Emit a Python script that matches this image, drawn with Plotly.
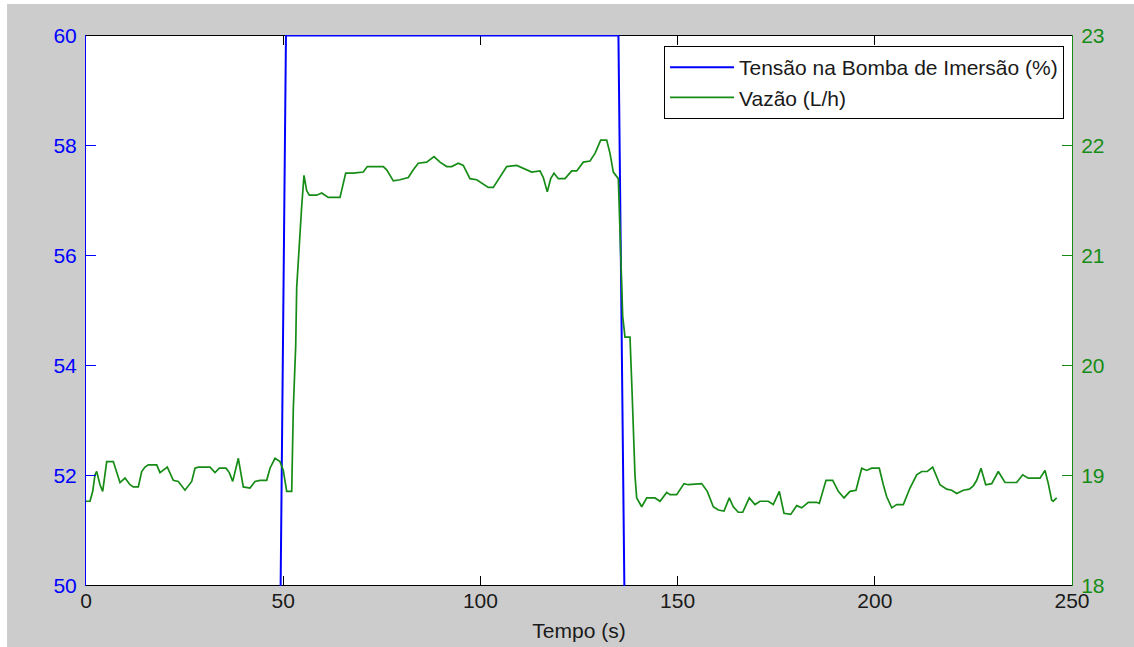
import plotly.graph_objects as go

# ---- data ----
t_tensao = [0, 48.0, 50.7, 135.0, 138.0, 246.1]
tensao = [40, 40, 60, 60, 40, 40]

t_vazao = [
    0, 1.01, 1.70, 2.28, 2.71, 3.55, 4.23, 5.25, 6.92, 7.78,
    8.62, 9.89, 11.16, 11.99, 13.26, 14.12, 14.96, 15.80, 17.93, 18.76,
    20.61, 22.13, 23.40, 25.10, 26.80, 27.64, 28.47, 31.44, 32.71, 33.80,
    35.50, 36.33, 37.20, 38.62, 39.88, 41.58, 42.85, 44.12, 45.82, 46.65,
    47.92, 49.19, 50.03, 50.89, 52.16, 52.56, 53.17, 53.42, 54.01, 54.69,
    55.27, 55.96, 56.62, 58.49, 59.76, 61.43, 64.40, 65.85, 67.77, 70.31,
    71.32, 75.38, 76.24, 77.92, 79.61, 81.72, 82.99, 84.25, 86.38, 88.24,
    89.76, 91.46, 92.72, 94.40, 95.66, 97.36, 99.06, 100.74, 102.00, 103.27,
    104.97, 106.67, 109.20, 111.74, 113.01, 115.11, 115.95, 116.96, 117.82, 118.66,
    119.75, 121.45, 123.15, 124.42, 126.09, 127.79, 129.06, 130.50, 132.02, 132.86,
    133.70, 134.97, 135.40, 135.83, 136.08, 136.66, 137.93, 138.51, 138.77, 139.20,
    139.63, 140.90, 142.17, 144.27, 145.54, 147.24, 148.07, 149.77, 151.62, 152.71,
    156.11, 157.53, 159.05, 160.32, 161.76, 163.11, 164.12, 165.39, 166.51, 168.18,
    169.62, 170.89, 173.00, 174.26, 175.79, 176.98, 178.68, 180.20, 181.47, 183.14,
    185.27, 185.93, 187.63, 189.33, 190.75, 192.19, 193.71, 195.23, 196.68, 197.95,
    199.21, 201.14, 202.16, 203.02, 204.29, 205.55, 207.23, 208.92, 210.62, 211.89,
    213.31, 214.68, 216.53, 218.23, 219.50, 220.77, 222.44, 223.96, 224.98, 225.84,
    226.93, 228.12, 229.64, 231.31, 233.01, 235.98, 237.50, 238.92, 241.89, 243.15,
    243.99, 244.85, 245.26, 246.12,
]
vazao = [
    18.77, 18.77, 18.86, 19.01, 19.04, 18.92, 18.86, 19.13, 19.13, 19.03,
    18.94, 18.98, 18.92, 18.90, 18.90, 19.04, 19.08, 19.10, 19.10, 19.03,
    19.08, 18.96, 18.95, 18.87, 18.95, 19.07, 19.08, 19.08, 19.03, 19.07,
    19.07, 19.03, 18.95, 19.16, 18.90, 18.89, 18.95, 18.96, 18.96, 19.07,
    19.16, 19.13, 19.05, 18.86, 18.86, 19.61, 20.18, 20.71, 21.11, 21.45,
    21.73, 21.59, 21.55, 21.55, 21.57, 21.53, 21.53, 21.75, 21.75, 21.76,
    21.81, 21.81, 21.78, 21.68, 21.69, 21.71, 21.78, 21.84, 21.85, 21.90,
    21.85, 21.81, 21.81, 21.84, 21.82, 21.70, 21.69, 21.65, 21.62, 21.62,
    21.71, 21.81, 21.82, 21.78, 21.76, 21.77, 21.71, 21.58, 21.70, 21.75,
    21.70, 21.70, 21.77, 21.77, 21.85, 21.86, 21.93, 22.05, 22.05, 21.93,
    21.76, 21.70, 21.13, 20.81, 20.45, 20.26, 20.26, 19.71, 19.35, 19.00,
    18.80, 18.72, 18.80, 18.80, 18.77, 18.85, 18.83, 18.83, 18.93, 18.92,
    18.93, 18.86, 18.72, 18.69, 18.68, 18.80, 18.72, 18.67, 18.67, 18.80,
    18.74, 18.77, 18.77, 18.74, 18.86, 18.66, 18.65, 18.73, 18.71, 18.76,
    18.76, 18.75, 18.96, 18.96, 18.86, 18.80, 18.86, 18.87, 19.07, 19.05,
    19.07, 19.07, 18.92, 18.81, 18.71, 18.74, 18.74, 18.89, 19.01, 19.04,
    19.04, 19.08, 18.92, 18.88, 18.87, 18.84, 18.87, 18.88, 18.91, 18.96,
    19.07, 18.92, 18.93, 19.04, 18.94, 18.94, 19.01, 18.98, 18.98, 19.05,
    18.93, 18.78, 18.77, 18.80,
]

x_ticks = [0, 50, 100, 150, 200, 250]
y1_ticks = [50, 52, 54, 56, 58, 60]
y2_ticks = [18, 19, 20, 21, 22, 23]

BLUE = "#0000ff"
GREEN = "#168c16"
FONT = "Liberation Sans, Arial, sans-serif"
FS = 21

fig = go.Figure()
fig.add_trace(go.Scatter(x=t_tensao, y=tensao, mode="lines",
                         name="Tensão na Bomba de Imersão (%)", legendgroup="a",
                         line=dict(color=BLUE, width=2)))
fig.add_trace(go.Scatter(x=t_vazao, y=vazao, mode="lines", name="Vazão (L/h)",
                         legendgroup="b",
                         yaxis="y2", line=dict(color=GREEN, width=1.7)))

fig.update_layout(
    width=1134, height=647,
    margin=dict(l=86, r=62, t=35, b=61),
    paper_bgcolor="white",
    plot_bgcolor="rgba(0,0,0,0)",
    font=dict(family=FONT, size=FS, color="#1a1a1a"),
    showlegend=True,
    legend=dict(x=0.9919, y=0.980, xanchor="right", yanchor="top",
                bgcolor="white", bordercolor="black", borderwidth=1,
                font=dict(size=FS, color="#1a1a1a"), itemwidth=64,
                tracegroupgap=0),
    xaxis=dict(range=[0, 250], tickvals=x_ticks, showgrid=False, zeroline=False,
               showline=False, mirror="ticks", automargin=False,
               ticks="inside", ticklen=10, tickcolor="black",
               tickfont=dict(size=FS, color="#1a1a1a"), ticklabelstandoff=0,
               title=dict(text="Tempo (s)", font=dict(size=FS), standoff=12),
               layer="below traces"),
    yaxis=dict(range=[50, 60.01], tickvals=y1_ticks, showgrid=False, zeroline=False,
               showline=True, linecolor=BLUE, linewidth=1, automargin=False,
               ticks="inside", ticklen=10, tickcolor=BLUE,
               tickfont=dict(size=FS, color=BLUE), ticklabelstandoff=4),
    yaxis2=dict(range=[18, 23.005], tickvals=y2_ticks, overlaying="y", side="right",
                showgrid=False, zeroline=False, showline=True, linecolor=GREEN,
                linewidth=1, ticks="inside", ticklen=10, tickcolor=GREEN,
                automargin=False,
                tickfont=dict(size=FS, color=GREEN), ticklabelstandoff=4),
    shapes=[
        # grey figure background with a thin white margin (screenshot frame)
        dict(type="rect", xref="paper", yref="paper", x0=-0.0801, x1=1.0629,
             y0=-0.1107, y1=1.0563, fillcolor="#cccccc", line=dict(width=0),
             layer="below"),
        # white axes area
        dict(type="rect", xref="paper", yref="paper", x0=0, x1=1, y0=0, y1=1,
             fillcolor="white", line=dict(width=0), layer="below"),
        # top box edge (below traces so the data line at the limit covers it)
        dict(type="line", xref="paper", yref="paper", x0=0, x1=1,
             y0=1 - 0.5 / 551, y1=1 - 0.5 / 551,
             line=dict(color="black", width=1), layer="below"),
        # bottom box edge
        dict(type="line", xref="paper", yref="paper", x0=0, x1=1,
             y0=0.5 / 551, y1=0.5 / 551,
             line=dict(color="black", width=1), layer="below"),
    ],
)

fig.write_html("out.html")
